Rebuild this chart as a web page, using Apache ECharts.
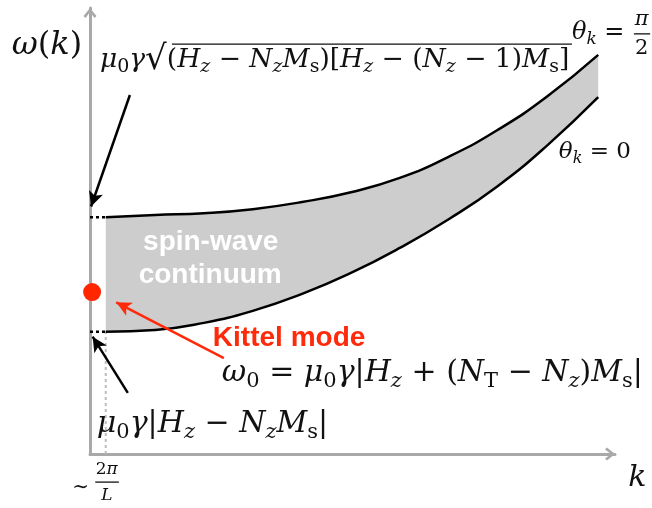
<!DOCTYPE html>
<html><head><meta charset="utf-8">
<script src="https://cdn.jsdelivr.net/npm/echarts@6/dist/echarts.min.js"></script>
<style>html,body{margin:0;padding:0;background:#fff}#c{width:652px;height:508px}</style>
</head><body><div id="c"></div>
<script>
// ---- data (arbitrary units of k and omega) ----
const kValues    = [0.30, 1.24, 2.17, 3.10, 4.04, 4.97, 5.90, 6.84, 7.77, 8.70, 9.68];
const omegaPi2   = [5.31, 5.36, 5.40, 5.49, 5.65, 5.87, 6.19, 6.67, 7.27, 8.01, 8.95]; // theta_k = pi/2
const omegaZero  = [2.74, 2.78, 2.94, 3.21, 3.59, 4.06, 4.62, 5.27, 6.01, 6.91, 8.00]; // theta_k = 0
const kittelMode = [0.04, 3.63];

// annotation anchors (data coordinates)
const arrowsBlack = [[[0.76, 8.05], [0.02, 5.55]], [[0.72, 1.37], [0.05, 2.63]]];
const arrowRed    = [[2.55, 2.15], [0.50, 3.40]];
const overbar     = [[1.56, 9.19], [9.18, 9.19]];
const fracBars    = [[[10.36, 9.42], [10.67, 9.42]], [[0.10, -0.63], [0.55, -0.63]]];

const MATH = "'DejaVu Serif', serif";
const SANS = "'Liberation Sans', Arial, Helvetica, sans-serif";
function mathRich(F, color) {
  color = color || '#111';
  const L = Math.round(F * 1.25), S = Math.round(F * 0.7), SL = Math.round(F * 0.75);
  return {
    i:   {fontFamily: MATH, fontStyle: 'italic', fontSize: F, lineHeight: L, color},
    r:   {fontFamily: MATH, fontSize: F, lineHeight: L, color},
    rad: {fontFamily: MATH, fontSize: Math.round(F * 1.3), lineHeight: L, color},
    si:  {fontFamily: MATH, fontStyle: 'italic', fontSize: S, lineHeight: SL, verticalAlign: 'bottom', color},
    sr:  {fontFamily: MATH, fontSize: S, lineHeight: SL, verticalAlign: 'bottom', color}
  };
}
const fmt = toks => toks.map(([s, t]) => '{' + s + '|' + t + '}').join('');

const texts = [
  {at: [-1.49, 9.15], F: 32, toks: [['i','ω'],['r','('],['i','k'],['r',')']]},
  {at: [0.19, 8.83], F: 26.5, toks: [['i','μ'],['sr','0'],['i','γ'],['rad','√'],['r','('],['i','H'],['si','z'],['r',' − '],['i','N'],['si','z'],['i','M'],['sr','s'],['r',')['],['i','H'],['si','z'],['r',' − ('],['i','N'],['si','z'],['r',' − 1)'],['i','M'],['sr','s'],['r',']']]},
  {at: [9.18, 9.44], F: 24, toks: [['i','θ'],['si','k'],['r',' = ']]},
  {at: [8.93, 6.77], F: 23, toks: [['i','θ'],['si','k'],['r',' = 0']]},
  {at: [2.51, 1.82], F: 30, toks: [['i','ω'],['sr','0'],['r',' = '],['i','μ'],['sr','0'],['i','γ'],['r','|'],['i','H'],['si','z'],['r',' + ('],['i','N'],['sr','T'],['r',' − '],['i','N'],['si','z'],['r',')'],['i','M'],['sr','s'],['r','|']]},
  {at: [0.13, 0.67], F: 30, toks: [['i','μ'],['sr','0'],['i','γ'],['r','|'],['i','H'],['si','z'],['r',' − '],['i','N'],['si','z'],['i','M'],['sr','s'],['r','|']]},
  {at: [-0.34, -0.76], F: 20, toks: [['r','∼']]},
  {at: [10.25, -0.54], F: 30, toks: [['i','k']]}
];
const fractions = [
  {at: [10.51, 9.42], F: 21, gap: 29, top: [['i','π']], bottom: [['r','2']]},
  {at: [0.32, -0.63], F: 17, gap: 26, top: [['r','2'],['i','π']], bottom: [['i','L']]}
];
const sansLabels = [
  {at: [2.30, 4.75], text: 'spin-wave', color: '#ffffff'},
  {at: [2.29, 4.01], text: 'continuum', color: '#ffffff'}
];
const kittelLabel = {at: [2.34, 2.60], text: 'Kittel mode', color: '#ff2a0a'};

const annotationData = [];
texts.forEach(t => annotationData.push({
  value: t.at,
  label: {show: true, position: 'inside', align: 'left', verticalAlign: 'middle', formatter: fmt(t.toks), rich: mathRich(t.F)}
}));
fractions.forEach(f => {
  const rich = mathRich(f.F);
  rich.i.lineHeight = f.gap; rich.r.lineHeight = f.gap;
  annotationData.push({
    value: f.at,
    label: {show: true, position: 'inside', align: 'center', verticalAlign: 'middle', formatter: fmt(f.top) + '\n' + fmt(f.bottom), rich}
  });
});
sansLabels.forEach(s => annotationData.push({
  value: s.at,
  label: {show: true, position: 'inside', align: 'center', verticalAlign: 'middle', formatter: s.text,
          fontFamily: SANS, fontWeight: 'bold', fontSize: 28, color: s.color}
}));
annotationData.push({
  value: kittelLabel.at,
  label: {show: true, position: 'inside', align: 'left', verticalAlign: 'middle', formatter: kittelLabel.text,
          fontFamily: SANS, fontWeight: 'bold', fontSize: 28, color: kittelLabel.color}
});

const pairs = arr => kValues.map((k, i) => [k, arr[i]]);
const last = kValues.length - 1;
const AXIS = '#a9a9a9';
const CHEVRON = 'path://M0,8 L6.5,0 L13,8 L11,10 L6.5,4 L2,10 Z';
const makeAxis = () => ({
  type: 'value', min: 0, max: 10,
  axisLine: {show: true, onZero: false, lineStyle: {color: AXIS, width: 3},
             symbol: ['none', CHEVRON], symbolSize: [14, 10], symbolOffset: [0, -5]},
  axisTick: {show: false}, axisLabel: {show: false}, splitLine: {show: false}
});
const seg = (pts, style, z) => ({type: 'line', data: pts, symbol: 'none', clip: false, silent: true, z,
                                  lineStyle: style});

const chart = echarts.init(document.getElementById('c'), null, {renderer: 'canvas'});
chart.setOption({
  animation: false,
  grid: {left: 90, right: 37, top: 8, bottom: 54, containLabel: false},
  xAxis: makeAxis(),
  yAxis: makeAxis(),
  series: [
    // continuum fill: grey under the upper curve, white under the lower curve
    {type: 'line', data: pairs(omegaPi2), smooth: true, symbol: 'none',
     lineStyle: {width: 0, opacity: 0}, areaStyle: {color: '#cdcdcd', opacity: 1, origin: 0.07}, silent: true, z: 1},
    {type: 'line', data: pairs(omegaZero), smooth: true, symbol: 'none',
     lineStyle: {width: 0, opacity: 0}, areaStyle: {color: '#ffffff', opacity: 1, origin: 0.07}, silent: true, z: 1},
    // white cover of anti-aliased edges under the lower curve
    seg([[kValues[last], 0.07], [kValues[last], omegaZero[last] - 0.05]], {color: '#fff', width: 2}, 2),
    seg([[kValues[0], 0.07], [kValues[0], omegaZero[0] - 0.05]], {color: '#fff', width: 2}, 2),
    {type: 'line', name: 'θk = π/2', data: pairs(omegaPi2), smooth: true, symbol: 'none',
     lineStyle: {color: '#000', width: 2.5}, silent: true, z: 4},
    {type: 'line', name: 'θk = 0', data: pairs(omegaZero), smooth: true, symbol: 'none',
     lineStyle: {color: '#000', width: 2.5}, silent: true, z: 4},
    seg([[0, omegaPi2[0]], [kValues[0], omegaPi2[0]]], {color: '#000', width: 2.5, type: [3, 3]}, 4),
    seg([[0, omegaZero[0]], [kValues[0], omegaZero[0]]], {color: '#000', width: 2.5, type: [3, 3]}, 4),
    seg([[kValues[0], 0], [kValues[0], omegaZero[0]]], {color: '#bdbdbd', width: 2, type: [3, 3]}, 3),
    // sqrt overbar
    seg(overbar, {color: '#111', width: 1.3}, 6),
    {type: 'scatter', data: [kittelMode], symbol: 'circle', symbolSize: 18, clip: false,
     itemStyle: {color: '#ff2600', opacity: 1}, silent: true, z: 5},
    {type: 'scatter', data: annotationData, symbol: 'circle', symbolSize: 1, clip: false,
     itemStyle: {color: 'transparent', opacity: 1}, silent: true, z: 6,
     markLine: {
       silent: true, symbol: ['none', 'arrow'], symbolSize: [11, 15], label: {show: false},
       lineStyle: {type: 'solid', width: 2.5, color: '#000'},
       data: arrowsBlack.map(a => [{coord: a[0]}, {coord: a[1]}]).concat([
         [{coord: arrowRed[0], lineStyle: {color: '#ff2a0a', width: 2.5, type: 'solid'}, itemStyle: {color: '#ff2a0a'}},
          {coord: arrowRed[1], lineStyle: {color: '#ff2a0a'}, itemStyle: {color: '#ff2a0a'}}]
       ]),
       emphasis: {disabled: true}
     }}
  ]
});
// fraction bars (outside the axis range) placed through the grid's own scales
const px = pt => chart.convertToPixel({xAxisIndex: 0, yAxisIndex: 0}, pt);
chart.setOption({
  graphic: fracBars.map(b => {
    const a = px(b[0]), c = px(b[1]);
    return {type: 'line', silent: true, z: 100,
            shape: {x1: a[0], y1: a[1], x2: c[0], y2: c[1]}, style: {stroke: '#111', lineWidth: 1.3}};
  })
});
</script>
</body></html>
